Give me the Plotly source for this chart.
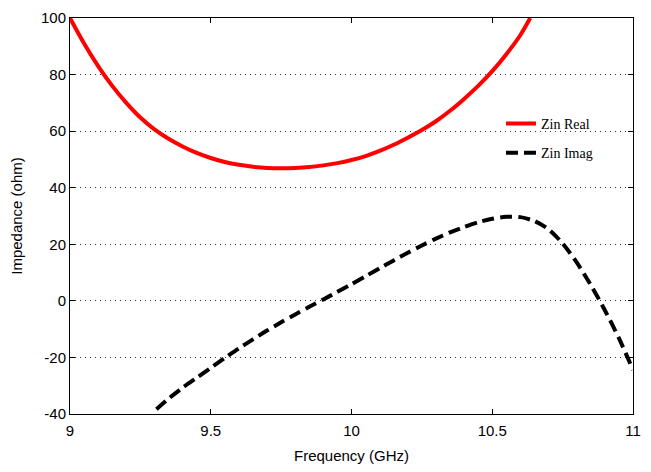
import plotly.graph_objects as go

# Zin Real (ohm)
freq_real = [9.0, 9.05, 9.1, 9.15, 9.2, 9.25, 9.3, 9.35, 9.4, 9.45, 9.5, 9.55, 9.6, 9.65, 9.7, 9.75,
             9.8, 9.85, 9.9, 9.95, 10.0, 10.05, 10.1, 10.15, 10.2, 10.25, 10.3, 10.35, 10.4, 10.45,
             10.5, 10.55, 10.6, 10.635]
zin_real = [100, 91.0, 83.0, 76.0, 70.0, 64.8, 60.6, 57.3, 54.6, 52.3, 50.5, 49.1, 48.1, 47.4, 47.0, 46.9,
            47.0, 47.3, 47.9, 48.7, 49.8, 51.2, 53.0, 55.2, 57.7, 60.4, 63.5, 67.2, 71.4, 76.0,
            81.2, 87.2, 94.0, 100]

# Zin Imag (ohm)
freq_imag = [9.307, 9.35, 9.4, 9.45, 9.5, 9.55, 9.6, 9.65, 9.7, 9.75, 9.8, 9.85, 9.9, 9.95, 10.0,
             10.05, 10.1, 10.15, 10.2, 10.25, 10.3, 10.35, 10.4, 10.45, 10.5, 10.55, 10.6, 10.65,
             10.7, 10.75, 10.8, 10.85, 10.9, 10.95, 11.0]
zin_imag = [-38.3, -34.6, -30.7, -27.2, -23.7, -20.2, -16.8, -13.6, -10.5, -7.6, -4.8, -2.1, 0.5, 3.2, 5.9,
            8.7, 11.5, 14.3, 17.0, 19.6, 22.0, 24.2, 26.1, 27.8, 29.0, 29.7, 29.6, 28.2,
            25.3, 20.3, 13.6, 5.6, -3.3, -13.2, -24.4]

x_ticks = [9, 9.5, 10, 10.5, 11]
y_ticks = [-40, -20, 0, 20, 40, 60, 80, 100]

fig = go.Figure()
fig.add_trace(go.Scatter(x=freq_real, y=zin_real, mode="lines", name="Zin Real", legendgroup="a",
                         line=dict(color="#ff0000", width=4, shape="spline", smoothing=0.8)))
fig.add_trace(go.Scatter(x=freq_imag, y=zin_imag, mode="lines", name="Zin Imag", legendgroup="b",
                         line=dict(color="#000000", width=4, dash="12px,6px", shape="spline", smoothing=0.8)))

tickfont = dict(family="Liberation Sans, Arial", size=15, color="#000")
titlefont = dict(family="Liberation Sans, Arial", size=15, color="#000")
fig.update_layout(
    width=635, height=456,
    margin=dict(l=62, r=10, t=10, b=50),
    paper_bgcolor="white", plot_bgcolor="white",
    showlegend=True,
    legend=dict(x=0.7655, y=0.773, xanchor="left", yanchor="top",
                bgcolor="rgba(0,0,0,0)", borderwidth=0,
                font=dict(family="Liberation Serif, Times New Roman, serif", size=14, color="#000"),
                tracegroupgap=8),
    xaxis=dict(range=[9, 11], tickvals=x_ticks, ticktext=[str(v) for v in x_ticks],
               ticks="inside", ticklen=5, tickcolor="#000", showgrid=False, zeroline=False,
               showline=True, linecolor="#000", linewidth=1, mirror="ticks",
               tickfont=tickfont, ticklabelstandoff=3, automargin=False,
               title=dict(text="Frequency (GHz)", font=titlefont, standoff=12)),
    yaxis=dict(range=[-40, 100], tickvals=y_ticks, ticktext=[str(v) for v in y_ticks],
               ticks="inside", ticklen=5, tickcolor="#000",
               showgrid=True, gridcolor="#333", griddash="1px,4px", gridwidth=1, zeroline=False,
               showline=True, linecolor="#000", linewidth=1, mirror="ticks",
               tickfont=tickfont, automargin=False,
               title=dict(text="Impedance (ohm)", font=titlefont, standoff=14)),
)

fig.write_html("out.html")
